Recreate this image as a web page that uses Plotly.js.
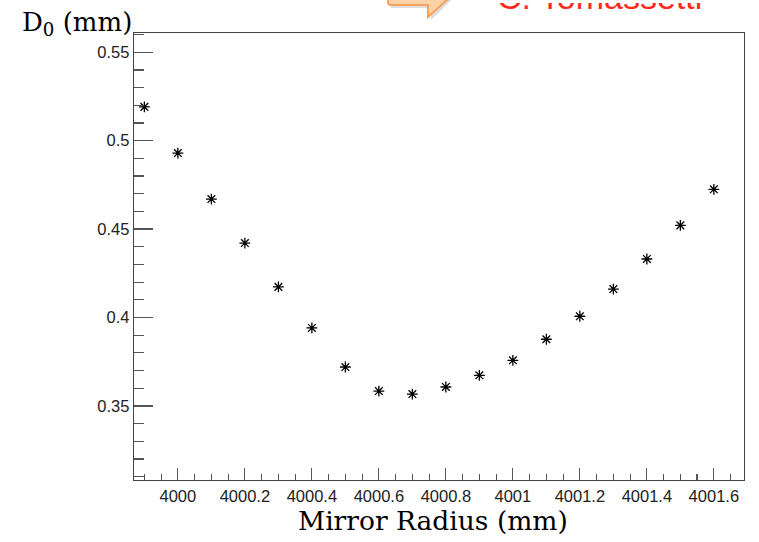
<!DOCTYPE html>
<html>
<head>
<meta charset="utf-8">
<script src="https://cdn.plot.ly/plotly-3.0.1.min.js"></script>
<style>html,body{margin:0;padding:0;background:#fff;}#chart{width:759px;height:542px;}</style>
</head>
<body>
<div id="chart"></div>
<script>
// Data
var mirrorRadius = [3999.9, 4000.0, 4000.1, 4000.2, 4000.3, 4000.4, 4000.5, 4000.6, 4000.7,
                    4000.8, 4000.9, 4001.0, 4001.1, 4001.2, 4001.3, 4001.4, 4001.5, 4001.6];
var d0 = [0.5191, 0.4930, 0.4670, 0.4421, 0.4173, 0.3941, 0.3720, 0.3584, 0.3567,
          0.3607, 0.3673, 0.3758, 0.3877, 0.4007, 0.4161, 0.4331, 0.4521, 0.4725];
var xTickVals = [4000, 4000.2, 4000.4, 4000.6, 4000.8, 4001, 4001.2, 4001.4, 4001.6];
var xTickText = ["4000", "4000.2", "4000.4", "4000.6", "4000.8", "4001", "4001.2", "4001.4", "4001.6"];
var yTickVals = [0.35, 0.4, 0.45, 0.5, 0.55];
var yTickText = ["0.35", "0.4", "0.45", "0.5", "0.55"];

var trace = {
  x: mirrorRadius,
  y: d0,
  type: 'scatter',
  mode: 'markers',
  marker: {symbol: 'asterisk-open', size: 9, color: '#000', line: {color: '#000', width: 1.3}},
  hoverinfo: 'x+y'
};

var W = 759, H = 542, L = 134, R = 15, T = 33, B = 62;
var pw = W - L - R, ph = H - T - B;
function px(x) { return (x - L) / pw; }
function py(y) { return (H - B - y) / ph; }

var arrowPath = 'M ' + px(388) + ',' + py(-20) +
  ' L ' + px(388) + ',' + py(2) +
  ' Q ' + px(388) + ',' + py(5) + ' ' + px(391) + ',' + py(5) +
  ' L ' + px(428) + ',' + py(5) +
  ' L ' + px(428) + ',' + py(17) +
  ' L ' + px(469) + ',' + py(-20) + ' Z';
var shadowPath = 'M ' + px(391) + ',' + py(-20) +
  ' L ' + px(391) + ',' + py(8) +
  ' L ' + px(431) + ',' + py(8) +
  ' L ' + px(431) + ',' + py(20) +
  ' L ' + px(472) + ',' + py(-20) + ' Z';

var tickFont = {size: 16.5, color: '#222', family: '"Liberation Sans", Arial, sans-serif'};
var titleFamily = '"DejaVu Serif", serif';

var layout = {
  width: W, height: H,
  margin: {l: L, r: R, t: T, b: B, pad: 0},
  paper_bgcolor: '#fff', plot_bgcolor: '#fff',
  showlegend: false,
  font: {family: '"Liberation Sans", Arial, sans-serif', color: '#222'},
  xaxis: {
    range: [3999.869, 4001.690],
    tickmode: 'array', tickvals: xTickVals, ticktext: xTickText,
    ticks: 'inside', ticklen: 12, tickwidth: 1.2, tickcolor: '#555',
    minor: {dtick: 0.05, tick0: 4000, ticks: 'inside', ticklen: 6, tickwidth: 1.2, tickcolor: '#555', showgrid: false},
    showgrid: false, zeroline: false,
    showline: true, linecolor: '#444', linewidth: 1.3, mirror: true,
    tickfont: tickFont,
    ticklabelstandoff: 1
  },
  yaxis: {
    range: [0.3081, 0.5609],
    tickmode: 'array', tickvals: yTickVals, ticktext: yTickText,
    ticks: 'inside', ticklen: 19, tickwidth: 1.2, tickcolor: '#555',
    minor: {dtick: 0.01, tick0: 0.3, ticks: 'inside', ticklen: 10, tickwidth: 1.2, tickcolor: '#555', showgrid: false},
    showgrid: false, zeroline: false,
    showline: true, linecolor: '#444', linewidth: 1.3, mirror: true,
    tickfont: tickFont,
    ticklabelstandoff: 0
  },
  shapes: [
    {type: 'path', xref: 'paper', yref: 'paper', path: shadowPath, fillcolor: 'rgba(120,120,120,0.25)', line: {width: 0}, layer: 'below'},
    {type: 'path', xref: 'paper', yref: 'paper', path: arrowPath, fillcolor: '#fcd3a6', line: {color: '#f7a35c', width: 2}}
  ],
  annotations: [
    {xref: 'paper', yref: 'paper', x: px(20), y: py(42), xanchor: 'left', yanchor: 'bottom',
     text: 'D<sub>0</sub> (mm)', showarrow: false,
     font: {family: titleFamily, size: 26, color: '#000'}},
    {xref: 'paper', yref: 'paper', x: px(433), y: py(520), xanchor: 'center', yanchor: 'middle',
     text: 'Mirror Radius (mm)', showarrow: false,
     font: {family: titleFamily, size: 26.5, color: '#000'}},
    {xref: 'paper', yref: 'paper', x: px(495), y: py(1), xanchor: 'left', yanchor: 'top',
     width: 240, height: 13, valign: 'bottom', align: 'left',
     text: 'C. Tomassetti', showarrow: false,
     font: {family: '"Liberation Sans", Arial, sans-serif', size: 34, color: '#ff2a1a'}}
  ]
};

Plotly.newPlot('chart', [trace], layout, {displayModeBar: false, staticPlot: true});
</script>
</body>
</html>
